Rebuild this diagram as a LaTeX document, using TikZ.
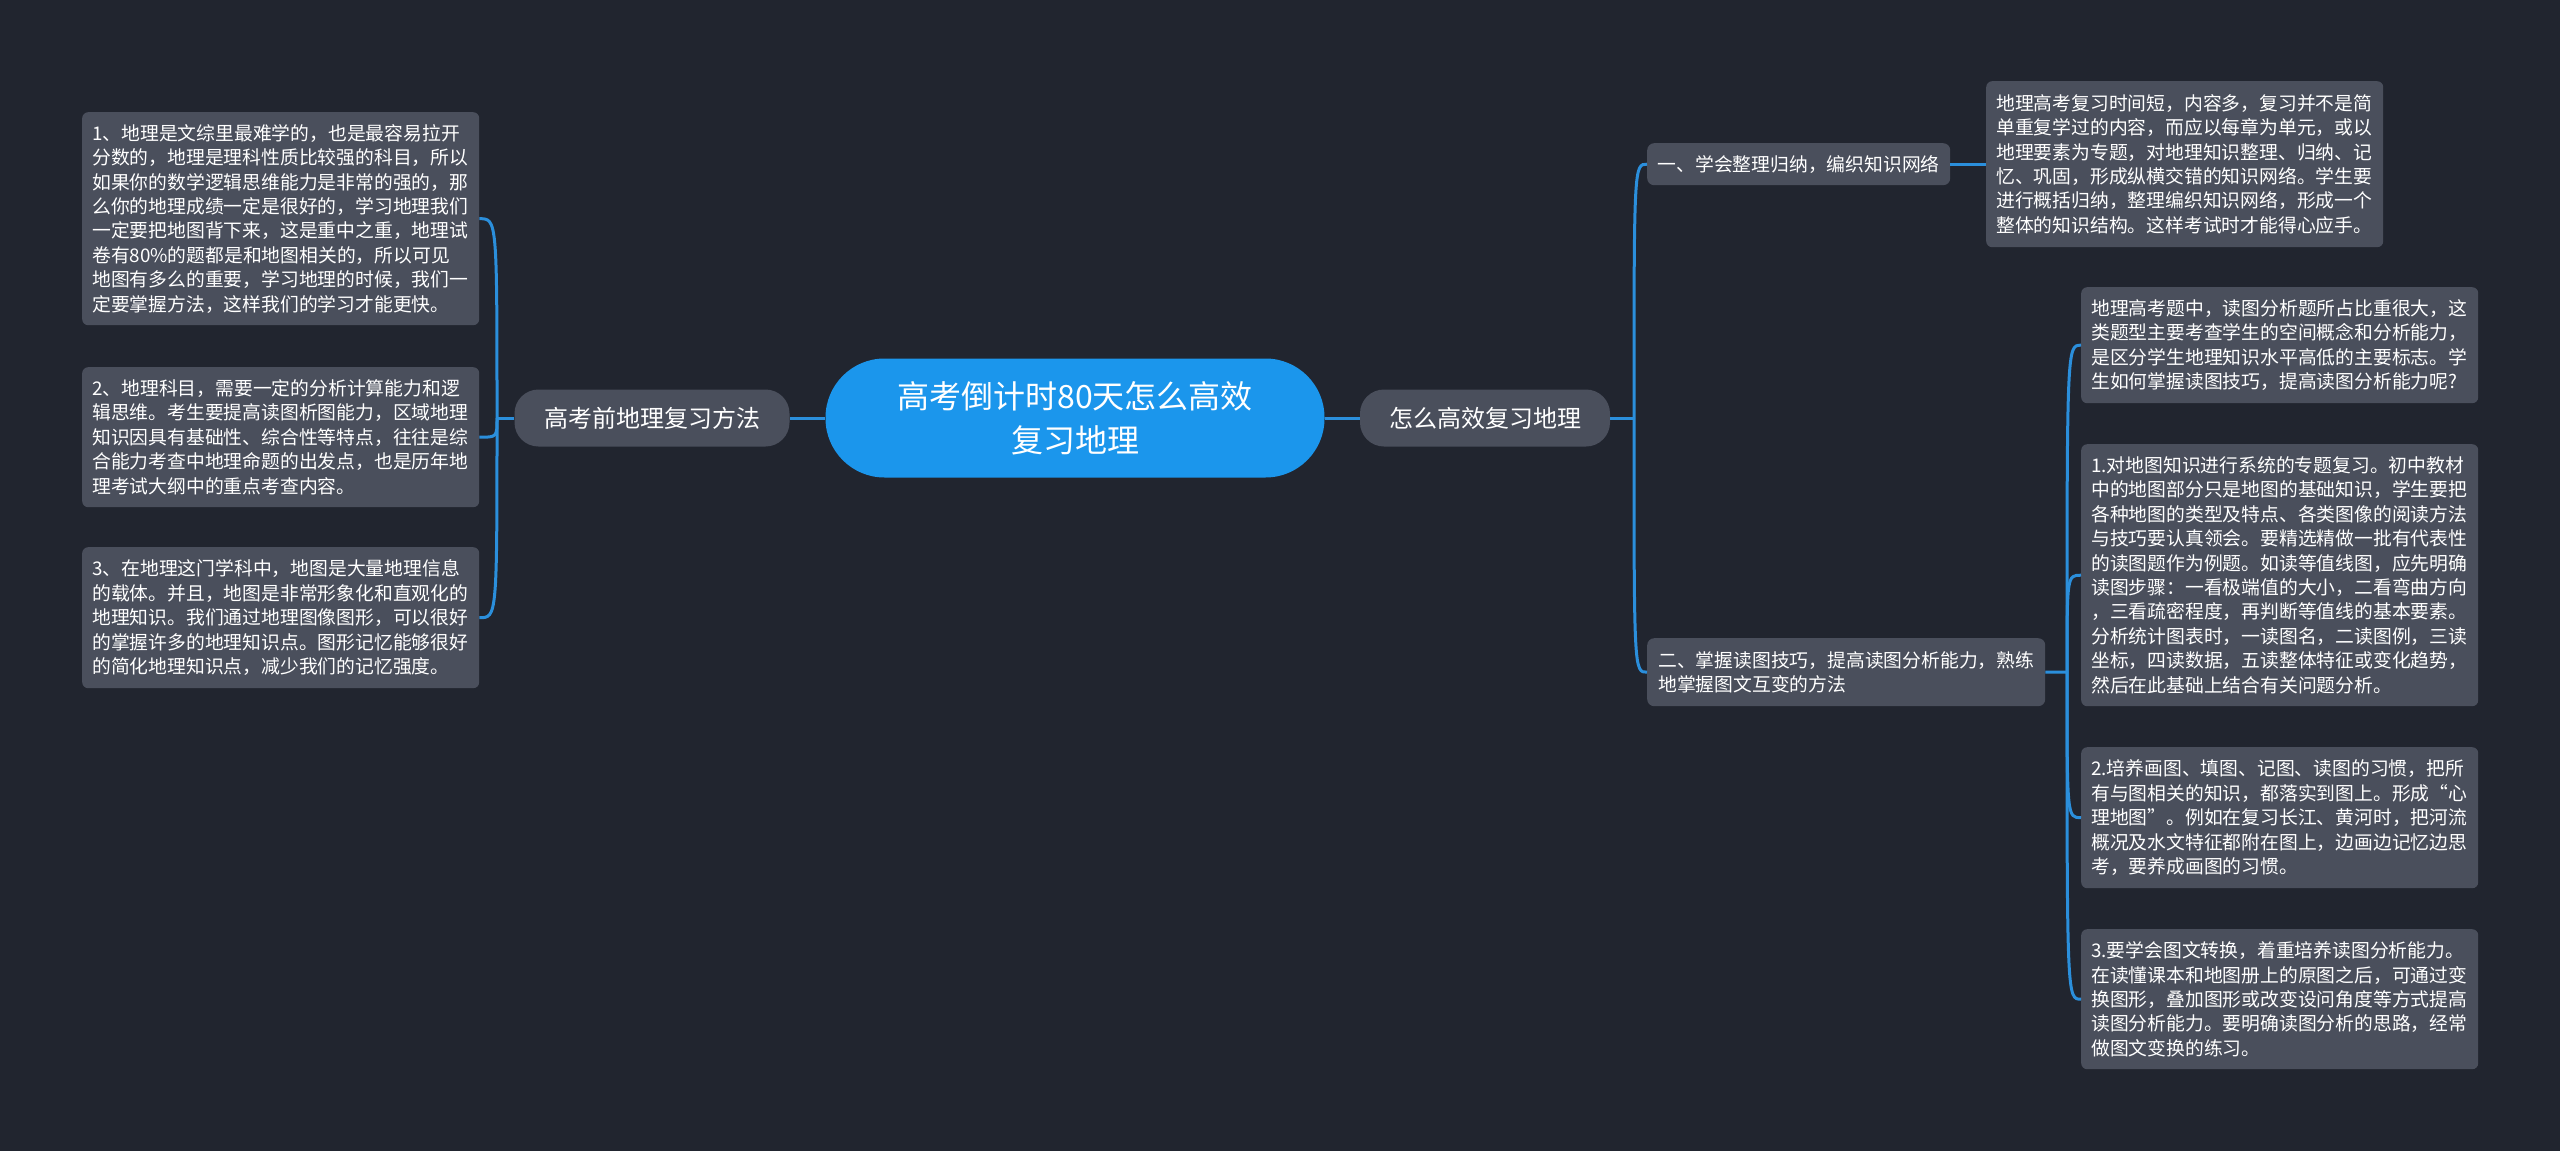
\documentclass[tikz,border=0pt]{standalone}
\usepackage{fontspec}
\setmainfont{Noto Sans CJK SC}
\definecolor{bg}{HTML}{21252F}
\definecolor{leafc}{HTML}{4A4F5C}
\definecolor{mainblue}{HTML}{1B96EC}
\definecolor{linkc}{HTML}{2B8FDC}
\begin{document}
\begin{tikzpicture}[x=1pt,y=-1pt,
  leafbox/.style={fill=leafc, rounded corners=6pt, anchor=north west, text=white, align=left,
    text width=377pt, inner xsep=10pt, inner ysep=0pt, font=\fontsize{18.8}{24.4}\selectfont},
  subbox/.style={fill=leafc, rounded corners=7pt, anchor=north west, text=white,
    inner ysep=0pt, font=\fontsize{18.8}{24.4}\selectfont},
  branchbox/.style={fill=leafc, rounded corners=24pt, text=white, inner sep=0pt,
    minimum height=57pt, font=\fontsize{24}{30}\selectfont},
  rootbox/.style={fill=mainblue, rounded corners=59pt, text=white, align=center, inner sep=0pt,
    minimum width=499pt, minimum height=119pt, font=\fontsize{32}{44}\selectfont},
  link/.style={draw=linkc, line width=3pt}]
\useasboundingbox (0,0) rectangle (2560,1151);
\fill[bg] (0,0) rectangle (2560,1151);

% root and branches
\node[rootbox] (root) at (1075,418) {高考倒计时80天怎么高效\\复习地理};
\node[branchbox, minimum width=275pt] (lb) at (652,418) {高考前地理复习方法};
\node[branchbox, minimum width=250pt] (rb) at (1485,418) {怎么高效复习地理};

% left leaves
\node[leafbox, minimum height=213pt] (L1) at (82,112) {1、地理是文综里最难学的，也是最容易拉开\\分数的，地理是理科性质比较强的科目，所以\\如果你的数学逻辑思维能力是非常的强的，那\\么你的地理成绩一定是很好的，学习地理我们\\一定要把地图背下来，这是重中之重，地理试\\卷有80\%的题都是和地图相关的，所以可见\\地图有多么的重要，学习地理的时候，我们一\\定要掌握方法，这样我们的学习才能更快。};
\node[leafbox, minimum height=140pt] (L2) at (82,367) {2、地理科目，需要一定的分析计算能力和逻\\辑思维。考生要提高读图析图能力，区域地理\\知识因具有基础性、综合性等特点，往往是综\\合能力考查中地理命题的出发点，也是历年地\\理考试大纲中的重点考查内容。};
\node[leafbox, minimum height=141pt] (L3) at (82,547) {3、在地理这门学科中，地图是大量地理信息\\的载体。并且，地图是非常形象化和直观化的\\地理知识。我们通过地理图像图形，可以很好\\的掌握许多的地理知识点。图形记忆能够很好\\的简化地理知识点，减少我们的记忆强度。};

% right sub-branches
\node[subbox, minimum width=303pt, minimum height=42pt, inner xsep=0pt] (R1) at (1647,143) {一、学会整理归纳，编织知识网络};
\node[subbox, text width=376pt, align=left, inner xsep=11pt, minimum height=68pt] (R2) at (1647,638) {二、掌握读图技巧，提高读图分析能力，熟练\\地掌握图文互变的方法};

% right leaves
\node[leafbox, minimum height=166pt] (R1a) at (1986,81) {地理高考复习时间短，内容多，复习并不是简\\单重复学过的内容，而应以每章为单元，或以\\地理要素为专题，对地理知识整理、归纳、记\\忆、巩固，形成纵横交错的知识网络。学生要\\进行概括归纳，整理编织知识网络，形成一个\\整体的知识结构。这样考试时才能得心应手。};
\node[leafbox, minimum height=116pt] (R2a) at (2081,287) {地理高考题中，读图分析题所占比重很大，这\\类题型主要考查学生的空间概念和分析能力，\\是区分学生地理知识水平高低的主要标志。学\\生如何掌握读图技巧，提高读图分析能力呢?};
\node[leafbox, minimum height=262pt] (R2b) at (2081,444) {1.对地图知识进行系统的专题复习。初中教材\\中的地图部分只是地图的基础知识，学生要把\\各种地图的类型及特点、各类图像的阅读方法\\与技巧要认真领会。要精选精做一批有代表性\\的读图题作为例题。如读等值线图，应先明确\\读图步骤：一看极端值的大小，二看弯曲方向\\，三看疏密程度，再判断等值线的基本要素。\\分析统计图表时，一读图名，二读图例，三读\\坐标，四读数据，五读整体特征或变化趋势，\\然后在此基础上结合有关问题分析。};
\node[leafbox, minimum height=141pt] (R2c) at (2081,747) {2.培养画图、填图、记图、读图的习惯，把所\\有与图相关的知识，都落实到图上。形成“心\\理地图”。例如在复习长江、黄河时，把河流\\概况及水文特征都附在图上，边画边记忆边思\\考，要养成画图的习惯。};
\node[leafbox, minimum height=140pt] (R2d) at (2081,929) {3.要学会图文转换，着重培养读图分析能力。\\在读懂课本和地图册上的原图之后，可通过变\\换图形，叠加图形或改变设问角度等方式提高\\读图分析能力。要明确读图分析的思路，经常\\做图文变换的练习。};

% junctions
\coordinate (lj) at (497,418);
\coordinate (rj) at (1634,418);
\coordinate (r2j) at (2067,672);

% connectors
\draw[link] (root.west) -- (lb.east);
\draw[link] (root.east) -- (rb.west);
\draw[link] (lb.west) -- (lj);
\foreach \n in {L1,L2,L3}
  \draw[link] (lj) .. controls (lj |- \n.east) .. (\n.east);
\draw[link] (rb.east) -- (rj);
\foreach \n in {R1,R2}
  \draw[link] (rj) .. controls (rj |- \n.west) .. (\n.west);
\draw[link] (R1.east) -- (R1a.west);
\draw[link] (R2.east) -- (r2j);
\foreach \n in {R2a,R2b,R2c,R2d}
  \draw[link] (r2j) .. controls (r2j |- \n.west) .. (\n.west);
\end{tikzpicture}
\end{document}
